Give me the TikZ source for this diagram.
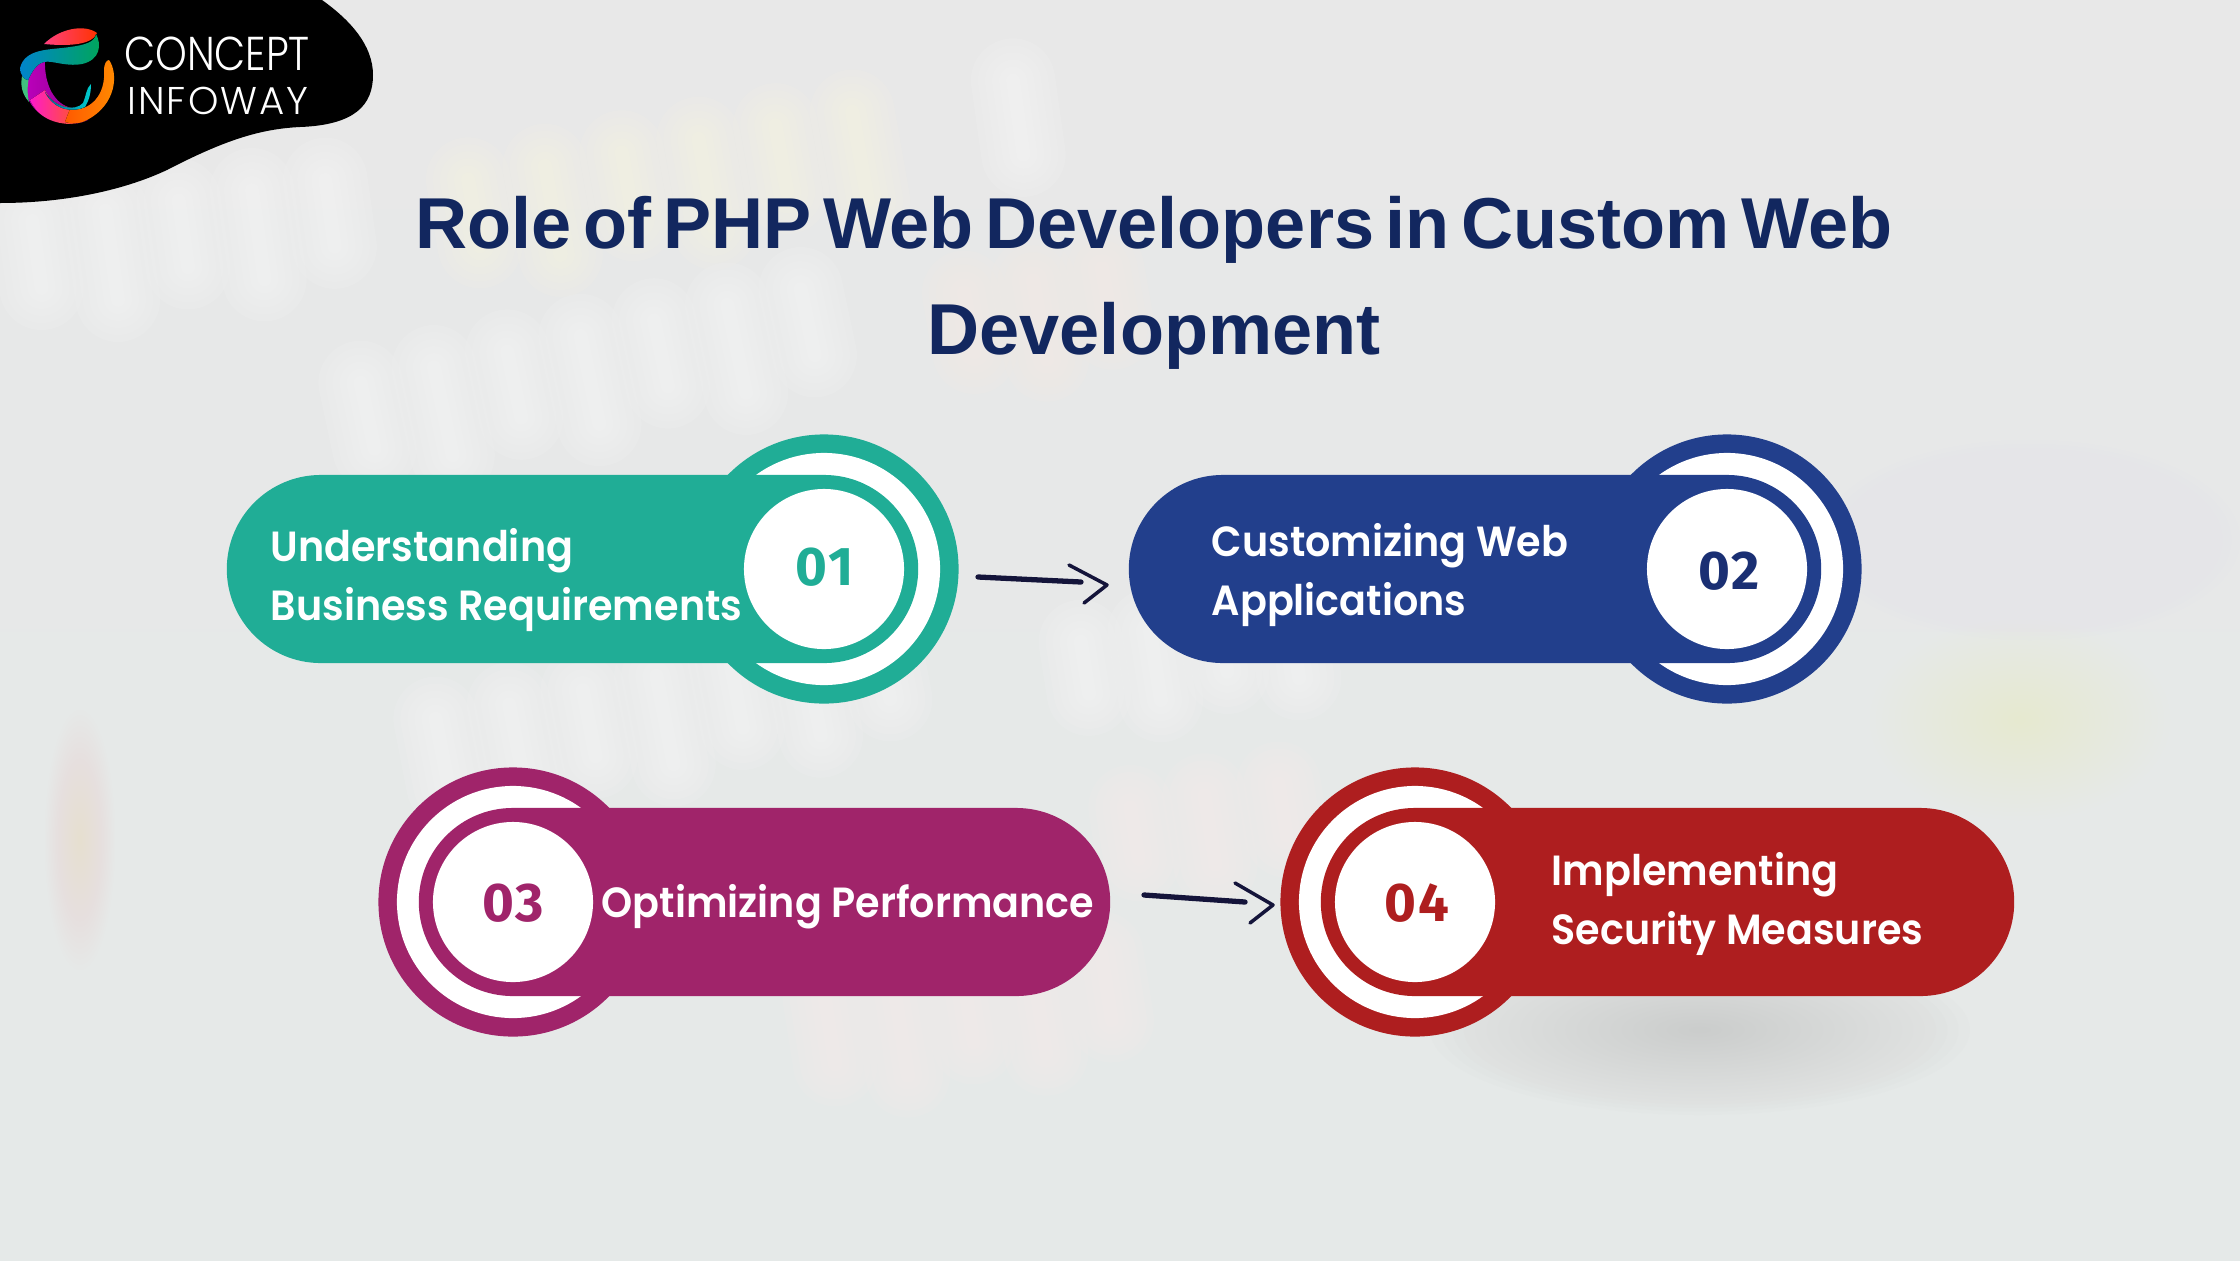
\documentclass[tikz,border=0pt]{standalone}
\usepackage{fontspec}
\setmainfont{Liberation Sans}[WordSpace=0.58]
\newfontfamily\labelfont{Poppins}[UprightFont=*-SemiBold, FakeStretch=0.94]
\newfontfamily\numfont{Fira Sans}[UprightFont=* Bold, LetterSpace=4]
\newfontfamily\logofont{Poppins}[UprightFont=*-Light, FakeStretch=0.85]
\newfontfamily\logobfont{Poppins}[UprightFont=*-Light, LetterSpace=5]
\usetikzlibrary{positioning}
\usetikzlibrary{calc}

\definecolor{paper}{HTML}{E8E8E8}
\definecolor{paperlow}{HTML}{E5E9E8}
\definecolor{tealband}{HTML}{20AD96}
\definecolor{blueband}{HTML}{223F8C}
\definecolor{plumband}{HTML}{A0246A}
\definecolor{redband}{HTML}{AE1E1F}
\definecolor{titleblue}{HTML}{12275F}
\definecolor{numblue}{HTML}{1A2F73}
\definecolor{arrowink}{HTML}{14143A}

\tikzset{
	pillbox/.style={rectangle, rounded corners=0.94cm, minimum height=1.88cm, inner sep=0pt},
	ringbox/.style={circle, minimum size=2.69cm, inner sep=0pt},
	halobox/.style={circle, fill=white, minimum size=2.32cm, inner sep=0pt},
	discbox/.style={circle, fill=white, minimum size=1.60cm, inner sep=0pt},
	numbox/.style={font=\numfont\fontsize{15.5}{18}\selectfont, inner sep=0pt},
	labelbox/.style={font=\labelfont\fontsize{12}{17}\selectfont, text=white, align=left, anchor=west, inner sep=0pt},
	titlebox/.style={font=\bfseries\fontsize{20.5}{30}\selectfont, text=titleblue, align=center, inner sep=0pt},
	handline/.style={draw=arrowink, line width=1.5pt, line cap=round},
	handhead/.style={draw=arrowink, line width=1pt, line cap=round, line join=round},
}

% blurred letters of the backdrop
\newcommand{\ghostword}[7]{
	\begin{scope}[shift={(#1,#2)}, rotate=#3]
		\foreach \k in {1,...,#4}
			\foreach \w in {4,8,...,24}
				{\draw[#7, opacity=0.09, line width=\w pt, line cap=round] ({(\k-(#4+1)/2)*#5},{-#6/2}) -- ({(\k-(#4+1)/2)*#5},{#6/2-mod(\k,2)*#6*0.25});}
	\end{scope}
}
\newcommand{\softblob}[5]{
	\foreach \s in {1,...,24}
		{\fill[#5, opacity=0.017] (#1,#2) ellipse [x radius={\s*#3/24}, y radius={\s*#4/24}];}
}

\begin{document}
\begin{tikzpicture}[x=0.01cm, y=-0.01cm]
	\useasboundingbox (0,0) rectangle (2240,1260);
	\fill[top color=paper, bottom color=paperlow] (0,0) rectangle (2240,1260);

	% backdrop
	\softblob{2030}{540}{210}{100}{blue!10!white}
	\softblob{2020}{720}{150}{100}{yellow!20!white}
	\softblob{1740}{770}{130}{80}{red!8!white}
	\softblob{80}{840}{35}{130}{orange!25!white}
	\softblob{540}{1235}{40}{50}{white}
	\ghostword{185}{245}{8}{5}{74}{90}{white}
	\ghostword{668}{190}{10}{6}{78}{90}{yellow!12!white}
	\ghostword{1020}{130}{8}{1}{40}{100}{white}
	\ghostword{590}{380}{12}{7}{75}{90}{white}
	\ghostword{1040}{320}{10}{3}{70}{80}{orange!10!white}
	\ghostword{665}{720}{11}{7}{75}{90}{white}
	\ghostword{1190}{660}{9}{4}{70}{70}{white}
	\ghostword{1210}{830}{9}{3}{75}{70}{red!5!white}
	\ghostword{970}{1020}{9}{5}{70}{90}{red!6!white}
	\softblob{1180}{1000}{60}{40}{white}

	% logo patch
	\fill[black] (0,0) -- (322,0) .. controls (350,20) and (373,45) .. (373,75) .. controls (373,105) and (355,125) .. (300,127) .. controls (260,129) and (225,140) .. (167,170) .. controls (120,192) and (60,203) .. (0,203) -- cycle;
	\fill[left color=magenta!75!black, right color=magenta!55!black] (28,62) .. controls (20,85) and (25,115) .. (60,122) .. controls (70,125) and (80,124) .. (88,120) -- (72,108) .. controls (55,105) and (44,85) .. (45,60) -- cycle;
	\fill[green!35!teal!75!white] (28,62) .. controls (18,78) and (20,92) .. (29,102) .. controls (26,90) and (28,75) .. (34,62) -- cycle;
	\fill[left color=magenta!80!orange, right color=orange!80!red] (30,100) .. controls (38,118) and (55,124) .. (72,124) -- (88,119) -- (72,108) .. controls (58,106) and (50,100) .. (45,90) -- cycle;
	\fill[left color=orange!70!red, right color=orange!90!yellow] (109,60) .. controls (118,72) and (118,105) .. (85,121) .. controls (78,124) and (72,124) .. (65,122) -- (70,109) .. controls (90,112) and (106,95) .. (104,70) .. controls (104,65) and (106,60) .. (109,60) -- cycle;
	\fill[left color=teal!80!blue, right color=cyan!60!teal] (45,92) .. controls (55,108) and (75,112) .. (83,103) .. controls (86,97) and (86,88) .. (91,84) .. controls (91,95) and (88,102) .. (85,107) .. controls (75,112) and (55,112) .. (45,92) -- cycle;
	\fill[left color=magenta!50!orange, right color=red!60!orange] (44,44) .. controls (60,28) and (85,24) .. (97,33) .. controls (92,46) and (65,46) .. (44,44) -- cycle;
	\fill[left color=blue!35!cyan!80!black, right color=teal!70!green] (20,68) .. controls (25,48) and (50,50) .. (70,47) .. controls (85,45) and (95,42) .. (96,34) .. controls (102,45) and (100,60) .. (82,64) .. controls (65,67) and (52,60) .. (44,62) .. controls (36,64) and (32,72) .. (28,80) .. controls (24,80) and (20,74) .. (20,68) -- cycle;
	\node[font=\logofont\fontsize{13.5}{15}\selectfont, text=white, inner sep=0pt] (logoa) at (217,54) {CONCEPT};
	\node[font=\logobfont\fontsize{11}{13}\selectfont, text=white, inner sep=0pt] (logob) at (218,101) {INFOWAY};

	\node[titlebox] (title) at (1154,283) {Role of PHP Web Developers in Custom Web\\Development};

	% shadow of the last band
	\softblob{1700}{1030}{270}{85}{black!30!paper}

	% bands
	\foreach \i/\cx/\cy/\px/\pw/\col in {1/824/569/572.5/6.91cm/tealband,2/1727/569/1475/6.92cm/blueband,3/513/902/764.5/6.91cm/plumband,4/1415/902/1667.5/6.93cm/redband}
		{
		\node[ringbox, fill=\col] (ring\i) at (\cx,\cy) {};
		\node[halobox] (halo\i) at (\cx,\cy) {};
		\node[pillbox, fill=\col, minimum width=\pw] (pill\i) at (\px,\cy) {};
		\node[discbox] (disc\i) at (\cx,\cy) {};
		}

	\node[numbox, text=tealband] (num1) at (825,567) {01};
	\node[numbox, text=numblue] (num2) at (1729,571) {02};
	\node[numbox, text=plumband] (num3) at (513,903) {03};
	\node[numbox, text=redband] (num4) at (1417,903) {04};

	\node[labelbox] (lab1) at (270,580) {Understanding\\Business Requirements};
	\node[labelbox] (lab2) at (1211,575) {Customizing Web\\Applications};
	\node[labelbox] (lab3) at (601,907) {Optimizing Performance};
	\node[labelbox] (lab4) at (1551,904) {Implementing\\Security Measures};

	% arrows
	\coordinate (sa) at (978,577);
	\coordinate (ea) at (1081,582);
	\coordinate (ua) at (1069,565);
	\coordinate (ta) at (1107,585);
	\coordinate (va) at (1084,603);
	\coordinate (sb) at (1144,895);
	\coordinate (eb) at (1245,902);
	\coordinate (ub) at (1235,883);
	\coordinate (tb) at (1273,905);
	\coordinate (vb) at (1250,923);
	\draw[handline] (sa) -- (ea);
	\draw[handhead] (ua) -- (ta) -- (va);
	\draw[handline] (sb) -- (eb);
	\draw[handhead] (ub) -- (tb) -- (vb);
\end{tikzpicture}
\end{document}
